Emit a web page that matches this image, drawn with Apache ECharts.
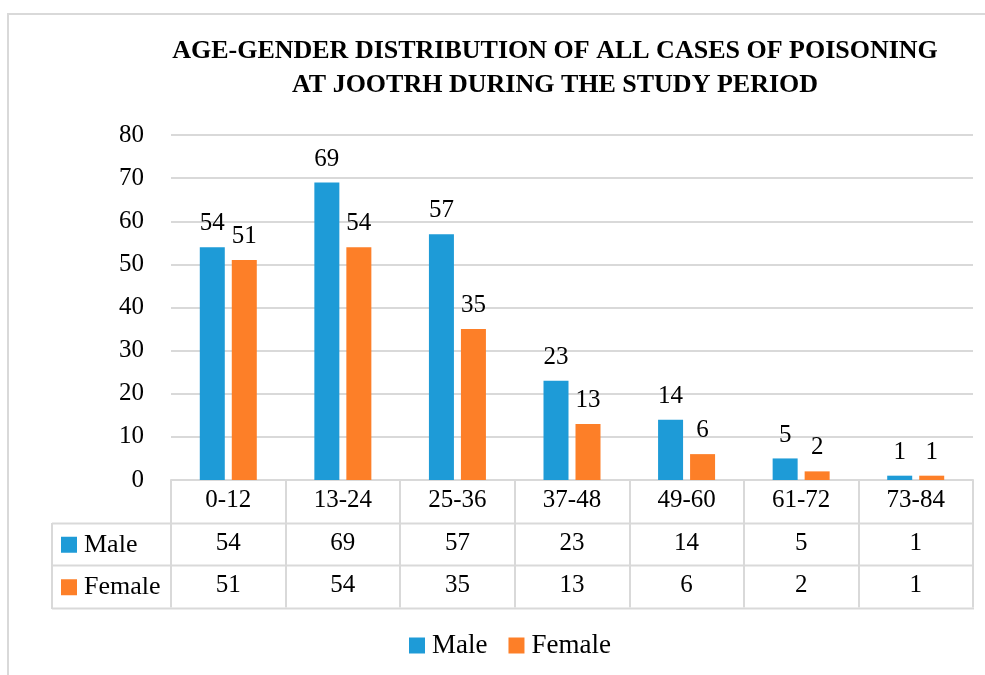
<!doctype html>
<html>
<head>
<meta charset="UTF-8">
<title>Age-gender distribution</title>
<script src="https://cdn.jsdelivr.net/npm/echarts@6/dist/echarts.min.js"></script>
<style>
  html, body { margin: 0; padding: 0; background: #fff; }
  #main { width: 985px; height: 675px; }
</style>
</head>
<body>
<div id="main"></div>
<script>
// data
var ageGroups = ['0-12', '13-24', '25-36', '37-48', '49-60', '61-72', '73-84'];
var maleVals = [54, 69, 57, 23, 14, 5, 1];
var femaleVals = [51, 54, 35, 13, 6, 2, 1];
var seriesNames = ['Male', 'Female'];
var seriesColors = ['#1e9bd7', '#fd7f28'];

var FONT = 'Liberation Serif';
var FS = 25;
var LINE = '#d9d9d9';

// grid / table layout
var gl = 171, gr = 12, gt = 135, gb = 195;
var W = 985, H = 675;
var axisY = H - gb;          // y of value 0
var rowH = 42.5;             // table row height
var tableLeft = 52;

var chart = echarts.init(document.getElementById('main'));

function valueAxis(vals, off) {
    return {
        type: 'category',
        data: ageGroups,
        position: 'bottom',
        offset: off,
        axisLine: { show: false },
        axisTick: { show: false },
        axisLabel: {
            interval: 0,
            margin: 8,
            fontFamily: FONT, fontSize: FS, color: '#000',
            formatter: function (v, i) { return String(vals[i]); }
        }
    };
}

// table lines and row headers
var graphics = [
    { type: 'rect', silent: true, shape: { x: 8, y: 14, width: 1100, height: 800 },
      style: { fill: null, stroke: LINE, lineWidth: 2 } }
];
[1, 2, 3].forEach(function (k) {
    var y = Math.round(axisY + rowH * k) + 0.5;
    graphics.push({ type: 'line', silent: true,
        shape: { x1: tableLeft, y1: y, x2: W - gr + 1, y2: y },
        style: { stroke: LINE, lineWidth: 2 } });
});
graphics.push({ type: 'line', silent: true,
    shape: { x1: tableLeft, y1: Math.round(axisY + rowH), x2: tableLeft, y2: Math.round(axisY + rowH * 3) + 1 },
    style: { stroke: LINE, lineWidth: 2 } });
seriesNames.forEach(function (name, k) {
    var cy = axisY + rowH * (k + 1.5);
    graphics.push({ type: 'rect', silent: true,
        shape: { x: 61, y: cy - 7, width: 16, height: 16 },
        style: { fill: seriesColors[k] } });
    graphics.push({ type: 'text', silent: true, x: 84, y: cy + 1,
        style: { text: name, font: '26px "' + FONT + '"', fill: '#000', textVerticalAlign: 'middle' } });
});

var option = {
    backgroundColor: '#fff',
    animation: false,
    title: {
        text: 'AGE-GENDER DISTRIBUTION OF ALL CASES OF POISONING\nAT JOOTRH DURING THE STUDY PERIOD',
        left: 550,
        textAlign: 'center',
        top: 29,
        textStyle: { fontFamily: FONT, fontSize: 26, fontWeight: 'bold', color: '#000', lineHeight: 34 }
    },
    legend: {
        data: seriesNames,
        bottom: 11,
        left: 404,
        icon: 'rect',
        itemWidth: 16,
        itemHeight: 16,
        itemGap: 21,
        textStyle: { fontFamily: FONT, fontSize: 27, color: '#000', padding: [0, 0, 0, 2] }
    },
    grid: { left: gl, right: gr, top: gt, bottom: gb, containLabel: false },
    xAxis: [
        {
            type: 'category',
            data: ageGroups,
            position: 'bottom',
            axisLine: { lineStyle: { color: LINE, width: 2 } },
            axisTick: { show: true, interval: 0, length: rowH * 3, lineStyle: { color: LINE, width: 2 } },
            axisLabel: { interval: 0, margin: 8, fontFamily: FONT, fontSize: FS, color: '#000' }
        },
        valueAxis(maleVals, rowH),
        valueAxis(femaleVals, rowH * 2)
    ],
    yAxis: {
        type: 'value',
        min: 0,
        max: 80,
        interval: 10,
        axisLine: { show: false },
        axisTick: { show: false },
        axisLabel: { margin: 27, fontFamily: FONT, fontSize: FS, color: '#000' },
        splitLine: { lineStyle: { color: LINE, width: 2 } }
    },
    series: [
        {
            name: seriesNames[0], type: 'bar', xAxisIndex: 0,
            data: maleVals, barWidth: 25, barGap: '28%',
            itemStyle: { color: seriesColors[0] },
            label: { show: true, position: 'top', distance: 11, fontFamily: FONT, fontSize: FS, color: '#000' }
        },
        {
            name: seriesNames[1], type: 'bar', xAxisIndex: 0,
            data: femaleVals, barWidth: 25, barGap: '28%',
            itemStyle: { color: seriesColors[1] },
            label: { show: true, position: 'top', distance: 11, fontFamily: FONT, fontSize: FS, color: '#000' }
        }
    ],
    graphic: graphics
};

chart.setOption(option);
</script>
</body>
</html>
